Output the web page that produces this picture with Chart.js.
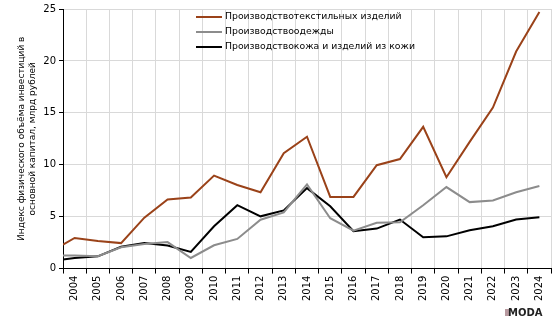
<!DOCTYPE html>
<html><head><meta charset="utf-8">
<script src="https://cdn.jsdelivr.net/npm/chart.js@4.4.1/dist/chart.umd.min.js"></script>
<style>html,body{margin:0;padding:0;background:#fff}</style>
</head><body>
<canvas id="c" width="553" height="322"></canvas>
<script>
// x positions of the data points (first point sits at the left edge of the axis)
const xValues = [2003.5, 2004, 2005, 2006, 2007, 2008, 2009, 2010, 2011, 2012, 2013, 2014, 2015, 2016, 2017, 2018, 2019, 2020, 2021, 2022, 2023, 2024];
const seriesNames = ['Производствотекстильных изделий', 'Производствоодежды', 'Производствокожа и изделий из кожи'];
const textiles = [2.3, 2.95, 2.65, 2.45, 4.9, 6.65, 6.85, 8.95, 8.05, 7.35, 11.1, 12.7, 6.9, 6.9, 9.95, 10.55, 13.65, 8.8, 12.2, 15.5, 20.9, 24.7];
const clothing = [1.25, 1.25, 1.18, 2.05, 2.37, 2.55, 1.02, 2.24, 2.85, 4.7, 5.4, 8.1, 4.85, 3.65, 4.4, 4.45, 6.1, 7.85, 6.4, 6.55, 7.35, 7.95];
const leather  = [0.87, 1.02, 1.18, 2.1, 2.45, 2.22, 1.6, 4.07, 6.1, 5.03, 5.6, 7.75, 6.0, 3.6, 3.85, 4.72, 3.02, 3.1, 3.68, 4.07, 4.72, 4.95];
const yTickValues = [0, 5, 10, 15, 20, 25];
const yTitle = ['Индекс физического объёма инвестиций в', 'основной капитал, млрд рублей'];
const colors = ['#9a4219', '#8c8c8c', '#000000'];

const FONT = 'DejaVu Sans';
const toPts = arr => arr.map((v, i) => ({x: xValues[i], y: v}));

const legendPlugin = {
  id: 'inlineLegend',
  afterDraw(chart) {
    const ctx = chart.ctx, a = chart.chartArea;
    ctx.save();
    ctx.font = '9.3px "' + FONT + '"';
    ctx.textBaseline = 'middle';
    ctx.fillStyle = '#000';
    const x0 = a.left + 133;
    seriesNames.forEach((name, i) => {
      const y = a.top + 8 + i * 15;
      ctx.strokeStyle = colors[i];
      ctx.lineWidth = 2;
      ctx.beginPath(); ctx.moveTo(x0, y); ctx.lineTo(x0 + 26, y); ctx.stroke();
      ctx.fillText(name, x0 + 29, y);
    });
    // watermark
    ctx.font = 'bold 10px "' + FONT + '"';
    ctx.fillStyle = '#b89aa0';
    ctx.fillRect(505, 309, 4, 7);
    ctx.fillStyle = '#222';
    ctx.fillText('MODA', 508, 313);
    ctx.restore();
  }
};

new Chart(document.getElementById('c'), {
  type: 'line',
  data: {
    datasets: [
      {label: seriesNames[0], data: toPts(textiles), borderColor: colors[0]},
      {label: seriesNames[1], data: toPts(clothing), borderColor: colors[1]},
      {label: seriesNames[2], data: toPts(leather), borderColor: colors[2]}
    ]
  },
  options: {
    responsive: false,
    animation: false,
    devicePixelRatio: 1,
    elements: {line: {borderWidth: 2, tension: 0}, point: {radius: 0}},
    layout: {padding: {left: 0, right: 2, top: 0, bottom: 19}},
    plugins: {legend: {display: false}, tooltip: {enabled: false}},
    scales: {
      x: {
        type: 'linear', min: 2003.5, max: 2024.5,
        afterBuildTicks: s => { const t = []; for (let v = 2003.5; v <= 2024.5; v += 0.5) t.push({value: v}); s.ticks = t; },
        afterFit: s => { s.paddingRight = 0; s.paddingLeft = 0; },
        ticks: {
          autoSkip: false, minRotation: 90, maxRotation: 90, padding: 2,
          color: '#000', font: {family: FONT, size: 10},
          callback: v => Number.isInteger(v) ? String(v) : ''
        },
        grid: {
          color: c => (c.tick && !Number.isInteger(c.tick.value)) ? '#d9d9d9' : 'rgba(0,0,0,0)',
          tickColor: c => (c.tick && !Number.isInteger(c.tick.value)) ? '#000' : 'rgba(0,0,0,0)',
          tickLength: 5, lineWidth: 1
        },
        border: {color: '#000', width: 1}
      },
      y: {
        min: 0, max: 25,
        afterBuildTicks: s => { s.ticks = yTickValues.map(v => ({value: v})); },
        afterFit: s => { s.width = 63; },
        ticks: {color: '#000', font: {family: FONT, size: 10}, padding: 3},
        grid: {color: '#d9d9d9', tickColor: '#000', tickLength: 4},
        border: {color: '#000', width: 1},
        title: {display: true, text: yTitle, color: '#000', font: {family: FONT, size: 9, lineHeight: 1.22}, padding: {top: 16.5, bottom: 0}}
      }
    }
  },
  plugins: [legendPlugin]
});
</script>
</body></html>
